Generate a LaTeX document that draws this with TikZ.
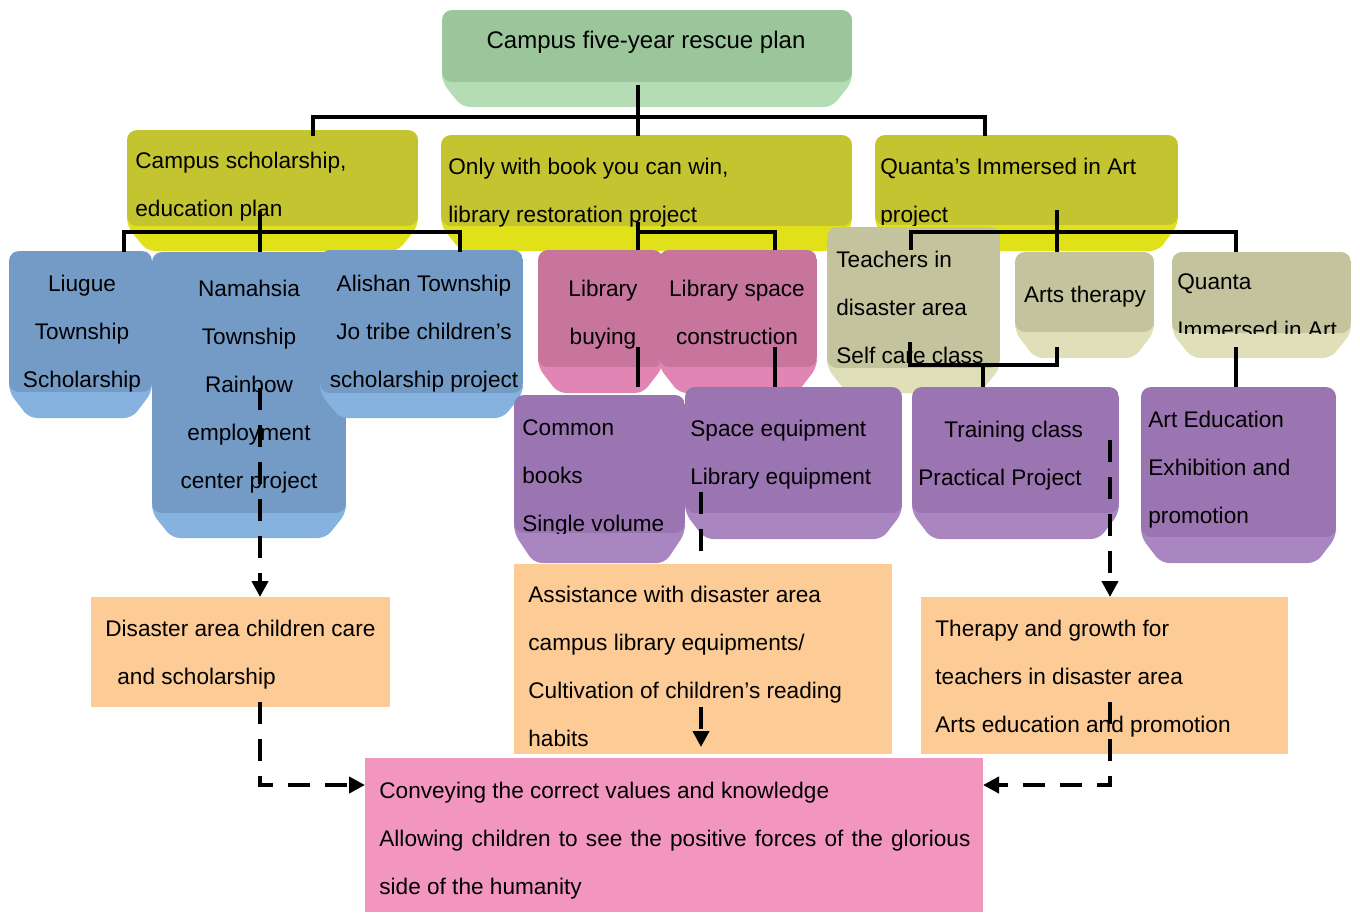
\documentclass[tikz,border=0pt]{standalone}
\usepackage{fontspec}
\setmainfont{Liberation Sans}
\usetikzlibrary{arrows.meta}

\definecolor{rootD}{HTML}{9BC59B}\definecolor{rootL}{HTML}{B5DDB5}
\definecolor{yelD}{HTML}{C3C430}\definecolor{yelL}{HTML}{E1E119}
\definecolor{bluD}{HTML}{739BC6}\definecolor{bluL}{HTML}{85B2DE}
\definecolor{pnkD}{HTML}{C7759C}\definecolor{pnkL}{HTML}{E085B4}
\definecolor{khkD}{HTML}{C3C39D}\definecolor{khkL}{HTML}{DFDFB9}
\definecolor{purD}{HTML}{9B74B2}\definecolor{purL}{HTML}{AA86C0}
\definecolor{orng}{HTML}{FCCB96}
\definecolor{rose}{HTML}{F296C0}

% first-line strut so that every text node has the same top
\newcommand\tstrut{\rule{0pt}{8.5pt}}

% bevelled button: #1 left, #2 top, #3 right, #4 face bottom, #5 base bottom,
% #6 colour family, #7 text drawn inside (clipped to the face)
\newcommand\bevelbox[7]{%
  \fill[#6L, rounded corners=4pt] (#1,#4-14) -- (#1,#4) -- (#1+20,#5) -- (#3-20,#5) -- (#3,#4) -- (#3,#4-14) -- cycle;
  \begin{scope}
    \clip[rounded corners=5pt] (#1,#2) rectangle (#3,#4);
    \fill[#6D] (#1,#2) rectangle (#3,#4);
    #7
  \end{scope}}

\tikzset{
  txt/.style={font=\fontsize{11.3}{24}\selectfont, inner sep=0pt, align=left, anchor=north west},
  ctxt/.style={txt, align=center, anchor=north},
  tree/.style={line width=2pt, line join=miter},
  dashlink/.style={line width=2.2pt, dash pattern=on 11pt off 7.5pt, line join=miter},
  tip/.style={-{Triangle[length=8pt,width=8pt]}}
}

\begin{document}
\begin{tikzpicture}[x=0.5pt, y=-0.5pt]
\useasboundingbox (0,0) rectangle (1360,912);

% ---- top level
\bevelbox{442}{10}{852}{82}{107}{root}{%
  \node[ctxt, font=\fontsize{12}{24}\selectfont] (root) at (646,31) {\tstrut Campus five-year rescue plan};}

% ---- programmes
\bevelbox{127}{130}{418}{226}{251}{yel}{%
  \node[txt] (progA) at (135,151) {\tstrut Campus scholarship,\\education plan};}
\bevelbox{441}{135}{852}{226}{251}{yel}{%
  \node[txt] (progB) at (448,157) {\tstrut Only with book you can win,\\library restoration project};}
\bevelbox{875}{135}{1178}{225}{251}{yel}{%
  \node[txt] (progC) at (880,157) {\tstrut Quanta’s Immersed in Art\\project};}

% ---- scholarship projects
\bevelbox{9}{251}{152}{392}{418}{blu}{%
  \node[ctxt] (liugue) at (82,274) {\tstrut Liugue\\Township\\Scholarship};}
\bevelbox{152}{252}{346}{513}{538}{blu}{%
  \node[ctxt] (namahsia) at (249,279) {\tstrut Namahsia\\Township\\Rainbow\\employment\\center project};}
\bevelbox{320}{250}{523}{393}{418}{blu}{%
  \node[ctxt] (alishan) at (424,274) {\tstrut Alishan Township\\Jo tribe children’s\\scholarship project};}

% ---- library projects
\bevelbox{538}{250}{663}{367}{393}{pnk}{%
  \node[ctxt] (libbuy) at (603,279) {\tstrut Library\\buying};}
\bevelbox{659}{250}{817}{367}{393}{pnk}{%
  \node[ctxt] (libspace) at (737,279) {\tstrut Library space\\construction};}

% ---- art projects
\bevelbox{827}{227}{1000}{368}{393}{khk}{%
  \node[txt] (teachers) at (836,250) {\tstrut Teachers in\\disaster area\\Self care class};}
\bevelbox{1015}{252}{1154}{332}{358}{khk}{%
  \node[ctxt] (arts) at (1085,285) {\tstrut Arts therapy};}
\bevelbox{1172}{252}{1351}{333}{358}{khk}{%
  \node[txt] (quanta) at (1177,272) {\tstrut Quanta\\Immersed in Art};}

% ---- items
\bevelbox{514}{395}{685}{533}{563}{pur}{%
  \node[txt] (common) at (522,418) {\tstrut Common\\books\\Single volume};}
\bevelbox{685}{387}{902}{513}{539}{pur}{%
  \node[txt] (equip) at (690,419) {\tstrut Space equipment\\Library equipment};}
\bevelbox{912}{387}{1119}{513}{539}{pur}{%
  \node[txt] (training) at (918,420) {\tstrut\hspace*{13pt}Training class\\Practical Project};}
\bevelbox{1141}{387}{1336}{537}{563}{pur}{%
  \node[txt] (arted) at (1148,410) {\tstrut Art Education\\Exhibition and\\promotion};}

% ---- anchor points of the connectors
\coordinate (rootout) at (638,85);
\coordinate (inA) at (313,136);
\coordinate (inB) at (638,136);
\coordinate (inC) at (985,136);
\coordinate (outA) at (260,211);
\coordinate (inLiugue) at (124,252);
\coordinate (inNam) at (260,252);
\coordinate (inAli) at (460,252);
\coordinate (outB) at (638,222);
\coordinate (inBuy) at (638,250);
\coordinate (inSpace) at (775,250);
\coordinate (outC) at (1057,210);
\coordinate (inTeach) at (911,250);
\coordinate (inArts) at (1057,252);
\coordinate (inQuanta) at (1236,252);
\coordinate (outBuy) at (638,347);
\coordinate (inCommon) at (638,387);
\coordinate (outSpace) at (775,347);
\coordinate (inEquip) at (775,387);
\coordinate (outArts) at (1057,347);
\coordinate (outTeach) at (910,342);
\coordinate (inTrain) at (983,387);
\coordinate (outQuanta) at (1236,347);
\coordinate (inArtEd) at (1236,387);
\coordinate (outNam) at (260,388);
\coordinate (outEquip) at (701,492);
\coordinate (endEquip) at (701,563);
\coordinate (outTrain) at (1110,440);

% dashed link that disappears behind the library result box
\draw[dashlink] (outEquip) -- (endEquip);

% ---- results
\node[fill=orng, minimum width=149.5pt, minimum height=55pt, inner sep=0pt, anchor=north west] (res1) at (91,597) {};
\node[txt] (res1t) at (105,619) {\tstrut Disaster area children care\\\hspace*{6pt}and scholarship};
\node[fill=orng, minimum width=189pt, minimum height=95pt, inner sep=0pt, anchor=north west] (res2) at (514,564) {};
\node[txt] (res2t) at (528,585) {\tstrut Assistance with disaster area\\campus library equipments/\\Cultivation of children’s reading\\habits};
\node[fill=orng, minimum width=183.5pt, minimum height=78.5pt, inner sep=0pt, anchor=north west] (res3) at (921,597) {};
\node[txt] (res3t) at (935,619) {\tstrut Therapy and growth for\\teachers in disaster area\\Arts education and promotion};

\node[fill=rose, minimum width=309pt, minimum height=77pt, inner sep=0pt, anchor=north west] (goal) at (365,758) {};
\node[txt] (goalt) at (379,781) {\tstrut Conveying the correct values and knowledge\\\makebox[295.5pt][s]{Allowing children to see the positive forces of the glorious}\\side of the humanity};

\coordinate (inRes1) at (260,597);
\coordinate (outRes1) at (260,702);
\coordinate (inGoalL) at (365,785);
\coordinate (outRes2) at (701,707);
\coordinate (inGoalM) at (701,747);
\coordinate (inRes3) at (1110,597);
\coordinate (outRes3) at (1110,702);
\coordinate (inGoalR) at (983,785);

% ---- tree connectors
\draw[tree] (rootout) -- (inB);
\draw[tree] (inA) -- ++(0,-19) -| (inC);
\draw[tree] (outA) -- (inNam);
\draw[tree] (inLiugue) -- ++(0,-20) -| (inAli);
\draw[tree] (outB) -- (inBuy);
\draw[tree] (inBuy) -- ++(0,-18) -| (inSpace);
\draw[tree] (outC) -- (inArts);
\draw[tree] (inTeach) -- ++(0,-18) -| (inQuanta);
\draw[tree] (outBuy) -- (inCommon);
\draw[tree] (outSpace) -- (inEquip);
\draw[tree] (outArts) -- ++(0,18) -| (outTeach);
\draw[tree] (inTrain) -- ++(0,-22);
\draw[tree] (outQuanta) -- (inArtEd);

% ---- dashed result links
\draw[dashlink, tip] (outNam) -- (inRes1);
\draw[dashlink, tip] (outRes1) |- (inGoalL);
\draw[dashlink, tip] (outRes2) -- (inGoalM);
\draw[dashlink, tip] (outTrain) -- (inRes3);
\draw[dashlink, tip] (outRes3) |- (inGoalR);

\end{tikzpicture}
\end{document}
